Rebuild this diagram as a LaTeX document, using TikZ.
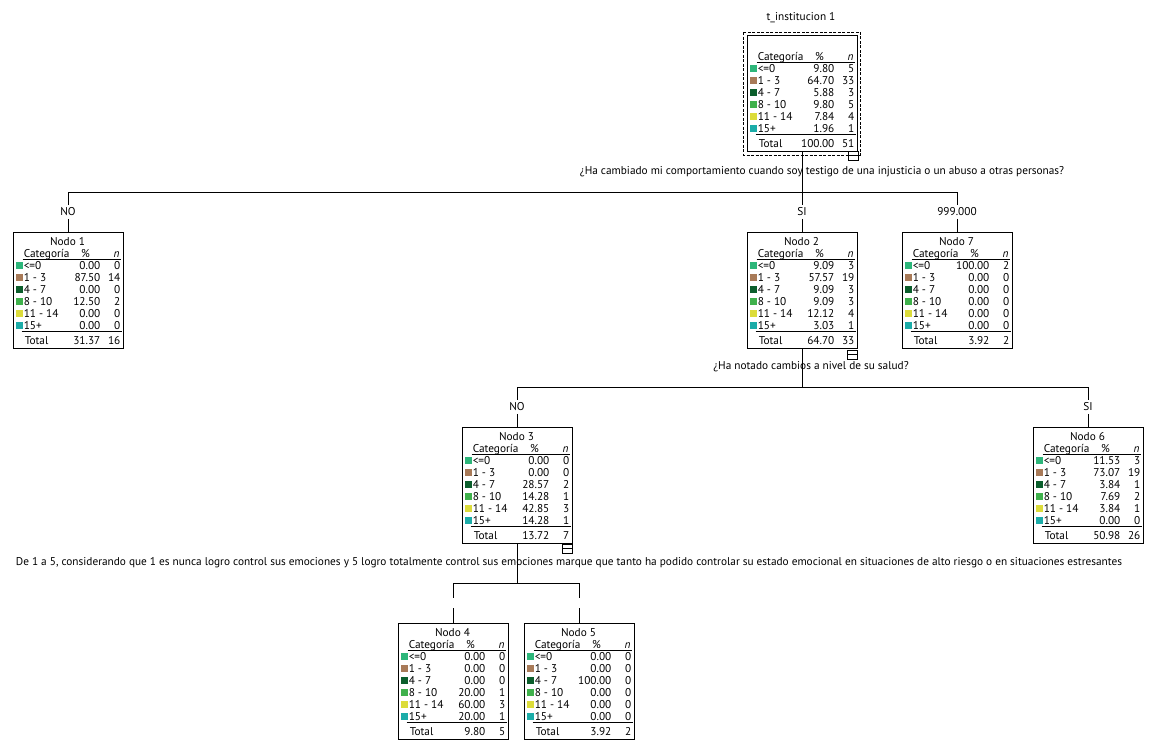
\documentclass[tikz,border=0pt]{standalone}
\usepackage{fontspec}
\setmainfont{PT Sans}
\usetikzlibrary{calc}
\definecolor{cA}{HTML}{2DB67A}
\definecolor{cB}{HTML}{A87A58}
\definecolor{cC}{HTML}{0B5E2C}
\definecolor{cD}{HTML}{3FB14C}
\definecolor{cE}{HTML}{DCDC3A}
\definecolor{cF}{HTML}{1BACA8}
\newcommand\fs{\fontsize{11.3}{12}\selectfont}
\newcommand\catname[1]{\ifcase#1\or<=0\or 1 - 3\or 4 - 7\or 8 - 10\or 11 - 14\or 15+\fi}
\newcommand\catcol[1]{\ifcase#1\or cA\or cB\or cC\or cD\or cE\or cF\fi}
\tikzset{
  box/.style={draw, line width=0.9pt, minimum width=110pt, minimum height=116pt, inner sep=0pt, anchor=north},
  txt/.style={inner sep=0pt, font=\fs, text height=8pt, text depth=0pt},
  lbl/.style={inner sep=2.5pt, font=\fs},
  conn/.style={line width=0.9pt},
  sep/.style={line width=0.7pt},
  iconbox/.style={draw, line width=0.6pt, fill=white}
}
% #1 name, #2 centre x, #3 top y, #4 title, #5 data (pct/n, 7 pairs incl. total)
\newcommand\tnode[5]{%
  \node[box] (#1) at (#2,#3) {};
  \path (#1.north west) ++(55,9) node[txt] (#1-t) {#4};
  \path (#1.north west) ++(11,21) node[txt,anchor=west] (#1-hc) {Categoría};
  \path (#1.north west) ++(73,21) node[txt] (#1-hp) {\%};
  \path (#1.north west) ++(104,21) node[txt] (#1-hn) {\itshape n};
  \draw[sep] ($(#1.north west)+(10,27)$) -- ++(98,0);
  \draw[sep] ($(#1.north west)+(9,99.5)$) -- ++(100,0);
  \foreach \pp/\nn [count=\i] in {#5} {
    \ifnum\i<7
      \pgfmathsetmacro\ry{21+12*\i}
      \fill[\catcol{\i}] ($(#1.north west)+(3,\ry-3.5)$) rectangle ++(7,7);
      \path (#1.north west) ++(11,\ry) node[txt,anchor=west] (#1-c\i) {\catname{\i}};
      \path (#1.north west) ++(88,\ry) node[txt,anchor=east] (#1-p\i) {\pp};
      \path (#1.north west) ++(108,\ry) node[txt,anchor=east] (#1-n\i) {\nn};
    \else
      \path (#1.north west) ++(12,108) node[txt,anchor=west] (#1-tc) {Total};
      \path (#1.north west) ++(88,108) node[txt,anchor=east] (#1-tp) {\pp};
      \path (#1.north west) ++(108,108) node[txt,anchor=east] (#1-tn) {\nn};
    \fi
  }
}
\newcommand\icon[3]{% node, dx, dy
  \draw[iconbox] ($(#1.south east)+(#2-10,#3)$) rectangle ++(10,9);
  \draw[line width=0.6pt] ($(#1.south east)+(#2-10,#3+4)$) -- ++(10,0);
}
\begin{document}
\begin{tikzpicture}[x=1pt,y=-1pt]
\useasboundingbox (0,0) rectangle (1163,744);
\fill[white] (0,0) rectangle (1163,744);

% root
\node[lbl] (rtitle) at (801,18) {t\_institucion 1};
\tnode{root}{802}{35}{}{9.80/5,64.70/33,5.88/3,9.80/5,7.84/4,1.96/1,100.00/51}
\draw[line width=0.6pt, dash pattern=on 3pt off 1.5pt] ($(root.north west)+(-3,-3)$) rectangle ($(root.south east)+(3,3)$);

% first split
\node[lbl] (q1) at (822,172) {¿Ha cambiado mi comportamiento cuando soy testigo de una injusticia o un abuso a otras personas?};
\coordinate (b1) at (802,192);
\coordinate (b1L) at (68,192);
\coordinate (b1R) at (957,192);
\draw[conn] (root.south) -- (b1);
\draw[conn] (b1L) -- (b1R);
\node[lbl] (l1) at (68,212) {NO};
\node[lbl] (l2) at (802,212) {SI};
\node[lbl] (l3) at (957,212) {999.000};
\tnode{n1}{68}{232}{Nodo 1}{0.00/0,87.50/14,0.00/0,12.50/2,0.00/0,0.00/0,31.37/16}
\tnode{n2}{802}{232}{Nodo 2}{9.09/3,57.57/19,9.09/3,9.09/3,12.12/4,3.03/1,64.70/33}
\tnode{n7}{957}{232}{Nodo 7}{100.00/2,0.00/0,0.00/0,0.00/0,0.00/0,0.00/0,3.92/2}
\draw[conn] (b1L) -- (l1); \draw[conn] (l1) -- (n1);
\draw[conn] (b1) -- (l2); \draw[conn] (l2) -- (n2);
\draw[conn] (b1R) -- (l3); \draw[conn] (l3) -- (n7);

% second split
\node[lbl] (q2) at (811,367) {¿Ha notado cambios a nivel de su salud?};
\coordinate (b2) at (802,387);
\coordinate (b2L) at (517,387);
\coordinate (b2R) at (1088,387);
\draw[conn] (n2) -- (b2);
\draw[conn] (b2L) -- (b2R);
\node[lbl] (l4) at (517,407) {NO};
\node[lbl] (l5) at (1088,407) {SI};
\tnode{n3}{517}{427}{Nodo 3}{0.00/0,0.00/0,28.57/2,14.28/1,42.85/3,14.28/1,13.72/7}
\tnode{n6}{1088}{427}{Nodo 6}{11.53/3,73.07/19,3.84/1,7.69/2,3.84/1,0.00/0,50.98/26}
\draw[conn] (b2L) -- (l4); \draw[conn] (l4) -- (n3);
\draw[conn] (b2R) -- (l5); \draw[conn] (l5) -- (n6);

% third split
\node[lbl] (q3) at (569,563) {De 1 a 5, considerando que 1 es nunca logro control sus emociones y 5 logro totalmente control sus emociones marque que tanto ha podido controlar su estado emocional en situaciones de alto riesgo o en situaciones estresantes};
\coordinate (b3) at (517,583);
\coordinate (b3L) at (453,583);
\coordinate (b3R) at (579,583);
\draw[conn] (n3) -- (b3);
\draw[conn] (b3L) -- (b3R);
\node[inner sep=0pt, minimum height=10pt, minimum width=0pt] (l6) at (453,603) {};
\node[inner sep=0pt, minimum height=10pt, minimum width=0pt] (l7) at (579,603) {};
\tnode{n4}{453}{623}{Nodo 4}{0.00/0,0.00/0,0.00/0,20.00/1,60.00/3,20.00/1,9.80/5}
\tnode{n5}{579}{623}{Nodo 5}{0.00/0,0.00/0,100.00/0,0.00/0,0.00/0,0.00/0,3.92/2}
\draw[conn] (b3L) -- (l6); \draw[conn] (l6) -- (n4);
\draw[conn] (b3R) -- (l7); \draw[conn] (l7) -- (n5);

% collapse icons
\icon{root}{1}{-1}
\icon{n2}{0}{1}
\icon{n3}{0}{0}
\end{tikzpicture}
\end{document}
